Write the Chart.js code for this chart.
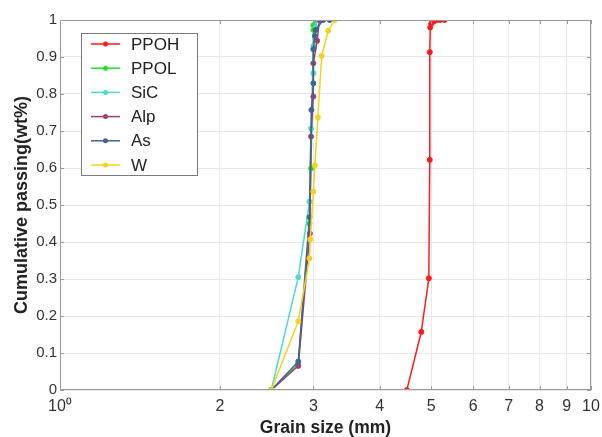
<!DOCTYPE html>
<html><head><meta charset="utf-8">
<script src="https://cdn.jsdelivr.net/npm/chart.js@4/dist/chart.umd.min.js"></script>
<style>html,body{margin:0;padding:0;background:#fff;}#wrap{width:602px;height:437px;}</style>
</head><body><div id="wrap"><canvas id="c" width="602" height="437"></canvas></div>
<script>
// ---- data ----
const seriesNames = ["PPOH", "PPOL", "SiC", "Alp", "As", "W"];
const seriesColors = ["#ff1a1a", "#22e022", "#4fd8cc", "#a0406e", "#3f6494", "#f7d21c"];

const ppohX = [4.50, 4.79, 4.95, 4.97, 4.97, 4.98, 5.00, 5.06, 5.13, 5.20, 5.30];
const ppohY = [0, 0.157, 0.302, 0.622, 0.913, 0.980, 0.990, 0.996, 1, 1, 1];

const ppolX = [2.50, 2.81, 2.95, 2.97, 3.00, 3.00, 3.03, 3.08];
const ppolY = [0, 0.070, 0.450, 0.599, 0.973, 0.986, 1, 1];

const sicX = [2.50, 2.81, 2.95, 2.97, 3.00, 3.00, 3.03, 3.05];
const sicY = [0, 0.305, 0.509, 0.707, 0.856, 0.930, 0.980, 1];

const alpX = [2.50, 2.81, 2.955, 2.97, 3.00, 3.00, 3.05, 3.08];
const alpY = [0, 0.065, 0.423, 0.685, 0.793, 0.883, 0.944, 1];

const asX = [2.50, 2.81, 2.95, 2.975, 3.00, 3.00, 3.02, 3.03, 3.13, 3.22];
const asY = [0, 0.077, 0.467, 0.757, 0.829, 0.921, 0.957, 0.973, 1, 1];

const wX = [2.50, 2.81, 2.95, 2.96, 3.00, 3.02, 3.06, 3.11, 3.20, 3.29];
const wY = [0, 0.186, 0.356, 0.407, 0.536, 0.607, 0.737, 0.903, 0.971, 1];

const xTickValues = [1, 2, 3, 4, 5, 6, 7, 8, 9, 10];
const xTickLabels = ["10\u2070", "2", "3", "4", "5", "6", "7", "8", "9", "10"];
const yTickValues = [0, 0.1, 0.2, 0.3, 0.4, 0.5, 0.6, 0.7, 0.8, 0.9, 1];
const yTickLabels = ["0", "0.1", "0.2", "0.3", "0.4", "0.5", "0.6", "0.7", "0.8", "0.9", "1"];

const xTitle = "Grain size (mm)";
const yTitle = "Cumulative passing(wt%)";

// ---- build ----
const xs = [ppohX, ppolX, sicX, alpX, asX, wX];
const ys = [ppohY, ppolY, sicY, alpY, asY, wY];

const datasets = seriesNames.map((name, i) => ({
  label: name,
  data: xs[i].map((x, k) => ({ x: x, y: ys[i][k] })),
  showLine: true,
  borderColor: seriesColors[i],
  backgroundColor: seriesColors[i],
  pointBackgroundColor: seriesColors[i],
  pointBorderColor: seriesColors[i],
  borderWidth: 1.5,
  pointRadius: 2.5,
  pointBorderWidth: 1,
  order: seriesNames.length - i
}));

Chart.defaults.font.family = "'Liberation Sans', Arial, Helvetica, sans-serif";
Chart.defaults.color = "#333";

const framePlugin = {
  id: "frame",
  afterDraw(chart) {
    const ctx = chart.ctx;
    const a = chart.chartArea;
    const xs_ = chart.scales.x, ys_ = chart.scales.y;
    ctx.save();
    ctx.strokeStyle = "#9a9a9a";
    ctx.lineWidth = 1;
    ctx.strokeRect(a.left + 0.5, a.top + 0.5, a.right - a.left - 1, a.bottom - a.top - 1);
    ctx.beginPath();
    xTickValues.forEach(v => {
      const px = Math.round(xs_.getPixelForValue(v)) + 0.5;
      ctx.moveTo(px, a.bottom); ctx.lineTo(px, a.bottom - 4);
      ctx.moveTo(px, a.top); ctx.lineTo(px, a.top + 4);
    });
    yTickValues.forEach(v => {
      const py = Math.round(ys_.getPixelForValue(v)) + 0.5;
      ctx.moveTo(a.left, py); ctx.lineTo(a.left + 4, py);
      ctx.moveTo(a.right, py); ctx.lineTo(a.right - 4, py);
    });
    ctx.stroke();
    // legend inside the plot
    const bx = 81, by = 33, bw = 116, bh = 142;
    ctx.fillStyle = "#fff";
    ctx.fillRect(bx, by, bw, bh);
    ctx.strokeStyle = "#7a7a7a";
    ctx.strokeRect(bx + 0.5, by + 0.5, bw, bh);
    ctx.font = "17px 'Liberation Sans', Arial, sans-serif";
    ctx.textBaseline = "middle";
    ctx.textAlign = "left";
    seriesNames.forEach((name, i) => {
      const yy = 44 + i * 24.2;
      ctx.strokeStyle = seriesColors[i];
      ctx.lineWidth = 1.5;
      ctx.beginPath(); ctx.moveTo(91, yy); ctx.lineTo(120, yy); ctx.stroke();
      ctx.fillStyle = seriesColors[i];
      ctx.beginPath(); ctx.arc(105.5, yy, 2.5, 0, Math.PI * 2); ctx.fill();
      ctx.fillStyle = "#222";
      ctx.fillText(name, 131, yy + 1);
    });
    ctx.restore();
  }
};

new Chart(document.getElementById("c"), {
  type: "scatter",
  data: { datasets: datasets },
  options: {
    responsive: false,
    animation: false,
    layout: { padding: { left: 0, right: 11, top: 20, bottom: 0 } },
    plugins: { legend: { display: false }, tooltip: { enabled: false } },
    scales: {
      x: {
        type: "logarithmic",
        min: 1, max: 10,
        afterBuildTicks: s => { s.ticks = xTickValues.map(v => ({ value: v })); },
        afterFit: s => { s.height = 47; s.paddingRight = 0; s.paddingLeft = 0; },
        ticks: {
          autoSkip: false, maxRotation: 0, padding: 7,
          font: { size: 16 }, color: "#333",
          callback: (v, i) => xTickLabels[i]
        },
        grid: { color: "#e8e8e8", drawTicks: false },
        border: { display: false },
        title: { display: true, text: xTitle, font: { size: 17.5, weight: "bold", lineHeight: 1.0 }, color: "#222", padding: 0 }
      },
      y: {
        type: "linear",
        min: 0, max: 1,
        afterBuildTicks: s => { s.ticks = yTickValues.map(v => ({ value: v })); },
        afterFit: s => { s.width = 60; },
        ticks: {
          padding: 3, font: { size: 15 }, color: "#333",
          callback: (v, i) => yTickLabels[i]
        },
        grid: { color: "#e8e8e8", drawTicks: false },
        border: { display: false },
        title: { display: true, text: yTitle, font: { size: 18, weight: "bold", lineHeight: 1.0 }, color: "#222", padding: { top: 13, bottom: 0 } }
      }
    }
  },
  plugins: [framePlugin]
});
</script>
</body></html>
